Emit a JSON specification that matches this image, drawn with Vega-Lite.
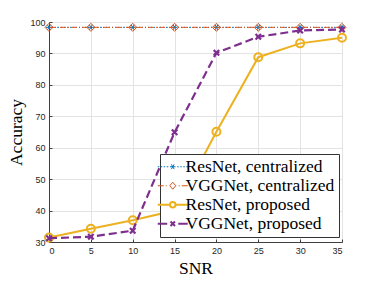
{
  "$schema": "https://vega.github.io/schema/vega-lite/v6.json",
  "width": 293,
  "height": 220,
  "autosize": "none",
  "padding": {"left": 49, "top": 22, "right": 36, "bottom": 42},
  "background": "white",
  "config": {
    "view": {"stroke": "#404040", "strokeWidth": 1},
    "axis": {
      "labelFont": "Liberation Sans",
      "labelFontSize": 9,
      "labelColor": "#262626",
      "titleFont": "Liberation Serif",
      "titleFontSize": 17.5,
      "titleFontWeight": "normal",
      "titleColor": "#000000",
      "gridColor": "#e3e3e3",
      "gridWidth": 1,
      "domainColor": "#404040",
      "tickColor": "#404040",
      "tickSize": -3
    }
  },
  "data": {
    "values": [
      {"series": "ResNet, centralized", "snr": 0, "acc": 98.3},
      {"series": "ResNet, centralized", "snr": 5, "acc": 98.3},
      {"series": "ResNet, centralized", "snr": 10, "acc": 98.3},
      {"series": "ResNet, centralized", "snr": 15, "acc": 98.3},
      {"series": "ResNet, centralized", "snr": 20, "acc": 98.3},
      {"series": "ResNet, centralized", "snr": 25, "acc": 98.3},
      {"series": "ResNet, centralized", "snr": 30, "acc": 98.3},
      {"series": "ResNet, centralized", "snr": 35, "acc": 98.3},
      {"series": "VGGNet, centralized", "snr": 0, "acc": 98.3},
      {"series": "VGGNet, centralized", "snr": 5, "acc": 98.3},
      {"series": "VGGNet, centralized", "snr": 10, "acc": 98.3},
      {"series": "VGGNet, centralized", "snr": 15, "acc": 98.3},
      {"series": "VGGNet, centralized", "snr": 20, "acc": 98.3},
      {"series": "VGGNet, centralized", "snr": 25, "acc": 98.3},
      {"series": "VGGNet, centralized", "snr": 30, "acc": 98.3},
      {"series": "VGGNet, centralized", "snr": 35, "acc": 98.3},
      {"series": "ResNet, proposed", "snr": 0, "acc": 31.4},
      {"series": "ResNet, proposed", "snr": 5, "acc": 34.2},
      {"series": "ResNet, proposed", "snr": 10, "acc": 36.9},
      {"series": "ResNet, proposed", "snr": 15, "acc": 40},
      {"series": "ResNet, proposed", "snr": 20, "acc": 65.1},
      {"series": "ResNet, proposed", "snr": 25, "acc": 88.8},
      {"series": "ResNet, proposed", "snr": 30, "acc": 93.2},
      {"series": "ResNet, proposed", "snr": 35, "acc": 95.0},
      {"series": "VGGNet, proposed", "snr": 0, "acc": 31.2},
      {"series": "VGGNet, proposed", "snr": 5, "acc": 31.7},
      {"series": "VGGNet, proposed", "snr": 10, "acc": 33.6},
      {"series": "VGGNet, proposed", "snr": 15, "acc": 64.9},
      {"series": "VGGNet, proposed", "snr": 20, "acc": 90.2},
      {"series": "VGGNet, proposed", "snr": 25, "acc": 95.3},
      {"series": "VGGNet, proposed", "snr": 30, "acc": 97.3},
      {"series": "VGGNet, proposed", "snr": 35, "acc": 97.6}
    ]
  },
  "encoding": {
    "x": {
      "field": "snr", "type": "quantitative",
      "scale": {"domain": [0, 35], "nice": false},
      "axis": {"values": [0, 5, 10, 15, 20, 25, 30, 35], "title": "SNR", "labelPadding": 7, "titlePadding": 4, "grid": true}
    },
    "y": {
      "field": "acc", "type": "quantitative",
      "scale": {"domain": [30, 100], "nice": false, "zero": false},
      "axis": {"values": [30, 40, 50, 60, 70, 80, 90, 100], "title": "Accuracy", "labelPadding": 7, "titlePadding": 4, "grid": true}
    }
  },
  "layer": [
    {
      "transform": [{"filter": "datum.series == 'ResNet, centralized'"}],
      "mark": {"type": "line", "color": "#0072BD", "strokeWidth": 1, "strokeDash": [1, 2]},
      "encoding": {}
    },
    {
      "transform": [{"filter": "datum.series == 'ResNet, centralized'"}],
      "mark": {"type": "point", "color": "#0072BD", "filled": false, "opacity": 1, "shape": "M-1,0H1M-0.5,-0.87L0.5,0.87M-0.5,0.87L0.5,-0.87", "size": 36, "strokeWidth": 1},
      "encoding": {}
    },
    {
      "transform": [{"filter": "datum.series == 'VGGNet, centralized'"}],
      "mark": {"type": "line", "color": "#D95319", "strokeWidth": 1, "strokeDash": [6, 2, 1, 2]},
      "encoding": {}
    },
    {
      "transform": [{"filter": "datum.series == 'VGGNet, centralized'"}],
      "mark": {"type": "point", "color": "#D95319", "filled": false, "opacity": 1, "shape": "diamond", "size": 64, "strokeWidth": 1},
      "encoding": {}
    },
    {
      "transform": [{"filter": "datum.series == 'ResNet, proposed'"}],
      "mark": {"type": "line", "color": "#EDB120", "strokeWidth": 2},
      "encoding": {}
    },
    {
      "transform": [{"filter": "datum.series == 'ResNet, proposed'"}],
      "mark": {"type": "point", "color": "#EDB120", "filled": false, "opacity": 1, "shape": "circle", "size": 64, "strokeWidth": 2},
      "encoding": {}
    },
    {
      "transform": [{"filter": "datum.series == 'VGGNet, proposed'"}],
      "mark": {"type": "line", "color": "#7E2F8E", "strokeWidth": 2.2, "strokeDash": [8, 4]},
      "encoding": {}
    },
    {
      "transform": [{"filter": "datum.series == 'VGGNet, proposed'"}],
      "mark": {"type": "point", "color": "#7E2F8E", "filled": false, "opacity": 1, "shape": "M-1,-1L1,1M-1,1L1,-1", "size": 30, "strokeWidth": 2.2},
      "encoding": {}
    },
    {
      "mark": {"type": "point", "filled": false, "opacity": 0, "size": 100},
      "encoding": {
        "color": {
          "field": "series", "type": "nominal",
          "scale": {
            "domain": ["ResNet, centralized", "VGGNet, centralized", "ResNet, proposed", "VGGNet, proposed"],
            "range": ["#0072BD", "#D95319", "#EDB120", "#7E2F8E"]
          },
          "legend": {
            "title": null,
            "orient": "none",
            "legendX": 111,
            "legendY": 132,
            "padding": 4,
            "rowPadding": 0,
            "labelOffset": 4,
            "labelFont": "Liberation Serif",
            "labelFontSize": 17.5,
            "labelColor": "#000000",
            "labelLimit": 300,
            "fillColor": "white",
            "strokeColor": "#333333",
            "symbolSize": 100,
            "symbolOpacity": 1,
            "symbolFillColor": "transparent"
          }
        },
        "shape": {
          "field": "series", "type": "nominal",
          "scale": {
            "domain": ["ResNet, centralized", "VGGNet, centralized", "ResNet, proposed", "VGGNet, proposed"],
            "range": [
              "M-3,0H-2.7M-2.4,0H-2.1M-1.8,0H-1.5M-1.2,0H-0.9M0.9,0H1.2M1.5,0H1.8M2.1,0H2.4M2.7,0H3M-0.55,0H0.55M-0.28,-0.48L0.28,0.48M-0.28,0.48L0.28,-0.48",
              "M-3,0H-1.8M-1.4,0H-1.2M-0.6,0L0,-0.7L0.6,0L0,0.7ZM1.2,0H1.4M1.8,0H3",
              "M-3,0H-0.55M0.55,0H3M-0.55,0A0.55,0.55 0 1,0 0.55,0A0.55,0.55 0 1,0 -0.55,0",
              "M-3,0H-1.1M-0.45,-0.45L0.45,0.45M-0.45,0.45L0.45,-0.45M1.1,0H3"
            ]
          },
          "legend": null
        },
        "strokeWidth": {
          "field": "series", "type": "nominal",
          "scale": {
            "type": "ordinal",
            "domain": ["ResNet, centralized", "VGGNet, centralized", "ResNet, proposed", "VGGNet, proposed"],
            "range": [1, 1, 2, 2]
          },
          "legend": null
        }
      }
    }
  ]
}
